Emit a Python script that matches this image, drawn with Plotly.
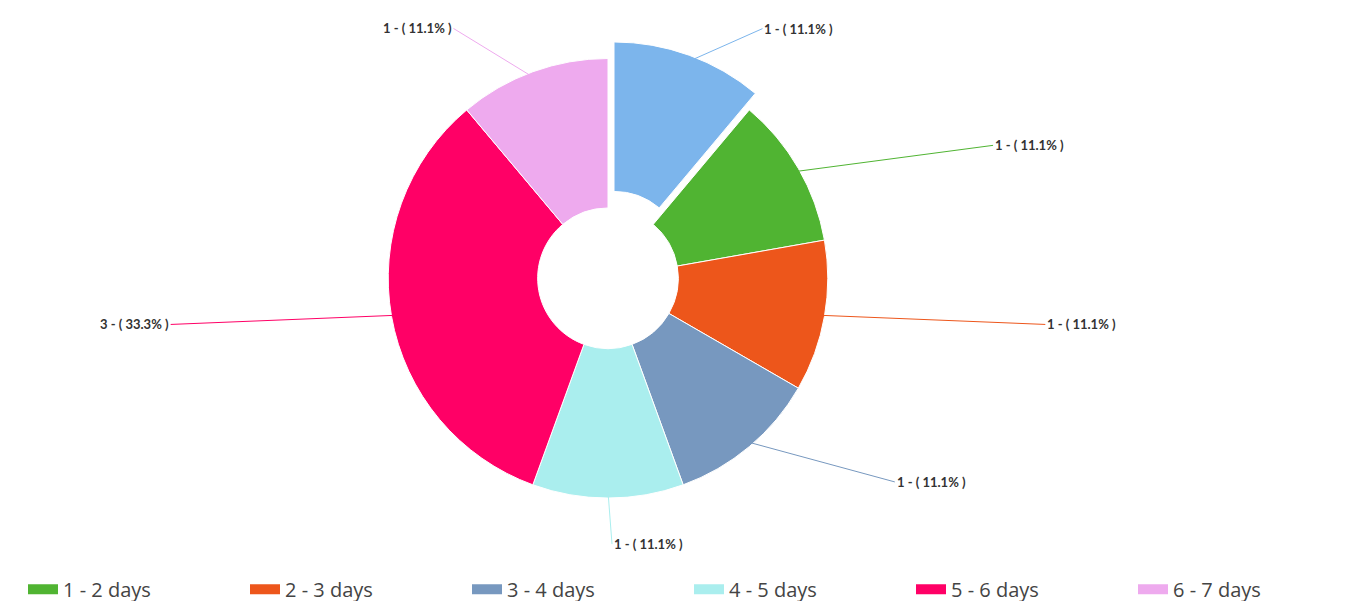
import numpy as np
import plotly.graph_objects as go

# slice data (clockwise from 12 o'clock)
labels = ["0 - 1 days", "1 - 2 days", "2 - 3 days", "3 - 4 days",
          "4 - 5 days", "5 - 6 days", "6 - 7 days"]
values = [1, 1, 1, 1, 1, 3, 1]
colors = ["#7cb5ec", "#50B432", "#ED561B", "#7798BF",
          "#aaeeee", "#ff0066", "#eeaaee"]
pulls = [0.08, 0, 0, 0, 0, 0, 0]
legend_labels = labels[1:]   # the first slice has no legend entry in the original

W, H = 1347, 601
cx, cy = 600, 273      # pie centre, px
R = 222                # pie radius, px
box = R * (2 + 2 * max(pulls))

total = sum(values)
label_text = [f"{v} - ( {v / total * 100:.1f}% )" for v in values]

fig = go.Figure()

fig.add_trace(go.Pie(
    labels=labels,
    values=values,
    hole=0.32,
    sort=False,
    direction="clockwise",
    rotation=0,
    pull=pulls,
    marker=dict(colors=colors, line=dict(color="white", width=1)),
    textinfo="none",
    showlegend=False,
    domain=dict(
        x=[(cx - box / 2) / W, (cx + box / 2) / W],
        y=[1 - (cy + box / 2) / H, 1 - (cy - box / 2) / H],
    ),
))

# legend entries
for name, col in zip(legend_labels, colors[1:]):
    fig.add_trace(go.Scatter(
        x=[None], y=[None], mode="lines", name=name,
        line=dict(color=col, width=10),
    ))

# outside labels with connector lines, placed from the slice mid angles
cum = np.cumsum([0] + values[:-1])
Rx_lab, Ry_lab = 440, 268
for v, c0, col, p, txt in zip(values, cum, colors, pulls, label_text):
    theta = np.deg2rad((c0 + v / 2) / total * 360)
    s, c = np.sin(theta), np.cos(theta)
    r_head = R * (1 + p) * 0.97
    hx, hy = cx + r_head * s, cy - r_head * c
    tx, ty = cx + Rx_lab * s, cy - Ry_lab * c
    right = s > -1e-9
    tx += 4 if right else -4
    fig.add_annotation(
        x=hx / W, y=1 - hy / H, xref="paper", yref="paper",
        ax=tx - hx, ay=ty - hy,
        text=f"<b>{txt}</b>",
        showarrow=True, arrowhead=0, arrowwidth=1, arrowcolor=col,
        xanchor="left" if right else "right",
        font=dict(family="Lato", size=13, color="#333333"),
    )

fig.update_layout(
    width=W, height=H,
    margin=dict(l=0, r=0, t=0, b=0),
    paper_bgcolor="white",
    plot_bgcolor="white",
    xaxis=dict(visible=False),
    yaxis=dict(visible=False),
    legend=dict(
        orientation="h",
        x=36 / W, xanchor="left",
        y=1 - 587 / H, yanchor="middle",
        font=dict(family="Open Sans", size=20, color="#444444"),
        entrywidth=177,
    ),
)

fig.write_html("out.html")
